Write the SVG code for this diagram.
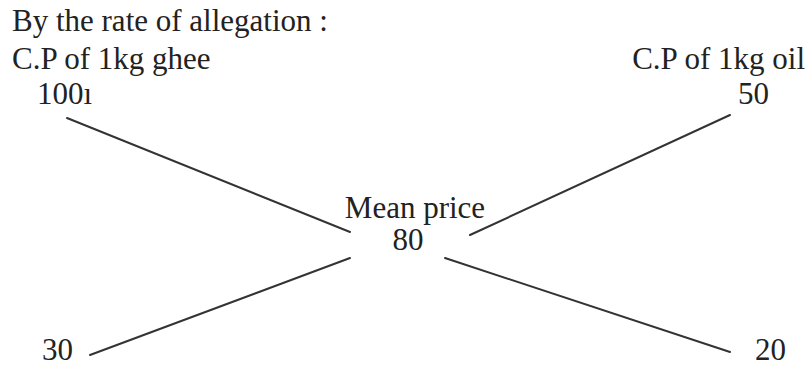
<svg xmlns="http://www.w3.org/2000/svg" width="810" height="365" viewBox="0 0 810 365">
<style>
text{font-family:"Liberation Serif","Times New Roman",serif;font-size:31px;fill:#222}
.c line{stroke:#333;stroke-width:2;stroke-linecap:round}
</style>
<rect width="810" height="365" fill="#fff"/>
<g id="title"><text x="12" y="31">By the rate of allegation :</text></g>
<g id="ghee"><text x="12" y="69">C.P of 1kg ghee</text><text x="37" y="104">100ı</text></g>
<g id="oil"><text x="805" y="69" text-anchor="end">C.P of 1kg oil</text><text x="738" y="104">50</text></g>
<g id="mean"><text x="415" y="218" text-anchor="middle">Mean price</text><text x="408" y="250" text-anchor="middle">80</text></g>
<g id="n30"><text x="42" y="360">30</text></g>
<g id="n20"><text x="755" y="360">20</text></g>
<g class="c" id="connectors">
<line x1="67" y1="118" x2="350" y2="232"/>
<line x1="470" y1="235" x2="730" y2="115"/>
<line x1="350" y1="258" x2="90" y2="355"/>
<line x1="445" y1="258" x2="730" y2="352"/>
</g>
</svg>
